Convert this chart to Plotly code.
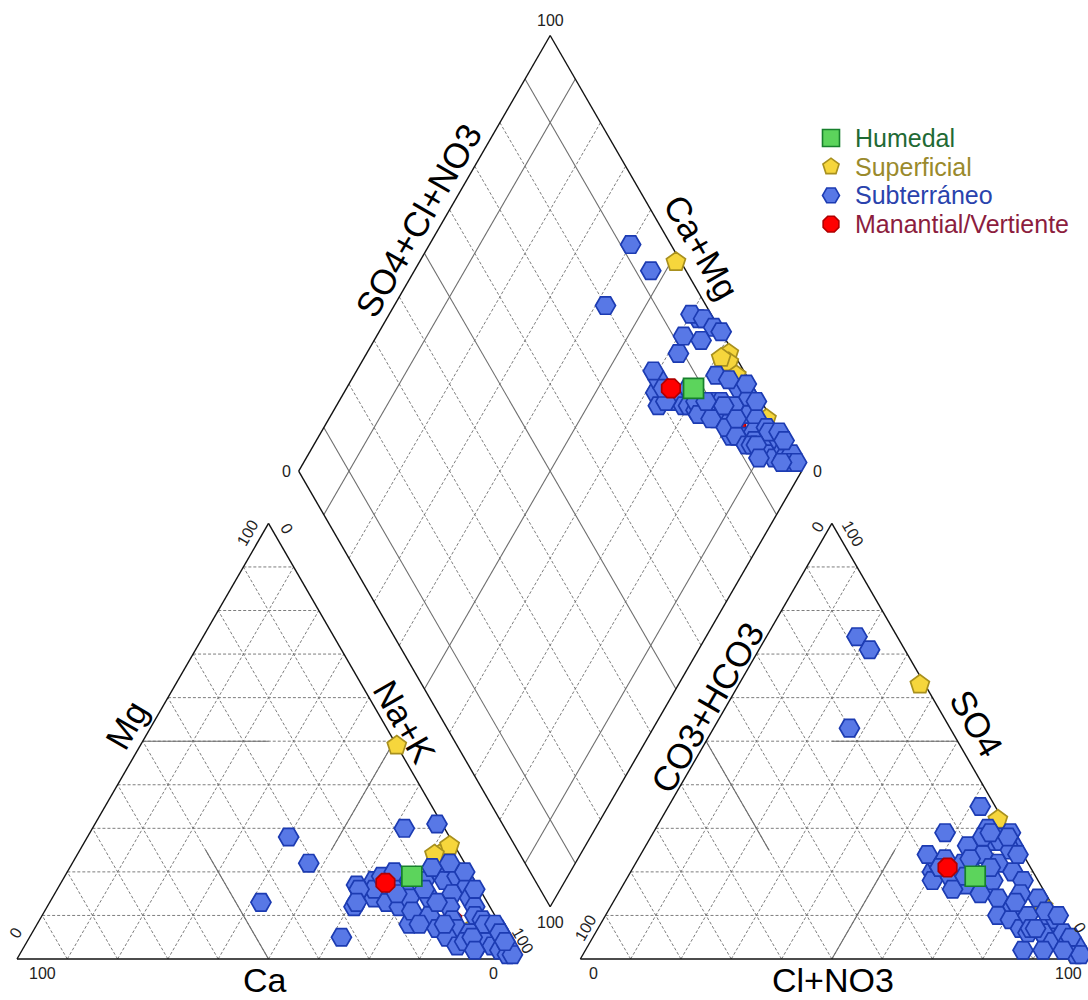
import numpy as np
import plotly.graph_objects as go

# ---------------- data (milliequivalent %) ----------------
# Humedal
hum_ca = [12]; hum_mg = [19]; hum_na = [69]
hum_hco3 = [12]; hum_so4 = [19]; hum_cl = [69]

# Superficial
sup_ca = [0, 4, 1, 5, 3, 6]
sup_mg = [49, 24, 26, 24, 21, 7]
sup_na = [51, 72, 73, 71, 76, 87]
sup_hco3 = [1, 1, 2, 3, 2, 1]
sup_so4 = [63, 32, 10, 8, 12, 1]
sup_cl = [36, 67, 88, 89, 86, 98]

# Subterraneo
sub_ca = [32, 31, 45, 8, 1, 33,
          20, 22, 27, 15, 20, 15, 18, 10, 18, 15, 24, 21,
          24, 18, 26, 17, 17, 15,
          6, 6, 3, 11, 13, 6, 8, 2, 9, 3, 9, 3, 4, 18, 16, 16, 13, 12, 11, 7, 3, 7, 1, 1, 10, 11, 9, 7, 3, 11,
          4, 5, 1, 4, 1, 3, 1, 2, 3, 7, 1, 1, 1, 1, 8]
sub_mg = [28, 22, 13, 30, 31, 5,
          18, 14, 12, 19, 13, 16, 12, 18, 17, 14, 17, 16,
          16, 19, 13, 17, 15, 20,
          20, 18, 19, 14, 10, 15, 12, 17, 9, 14, 7, 12, 10, 8, 11, 8, 7, 5, 3, 6, 9, 21, 20, 16, 13, 8, 4, 3, 22, 16,
          6, 4, 7, 3, 5, 2, 3, 1, 8, 5, 8, 6, 1, 4, 2]
sub_na = [40, 47, 42, 62, 68, 62,
          62, 64, 61, 66, 67, 69, 70, 72, 65, 71, 59, 63,
          60, 63, 61, 66, 68, 65,
          74, 76, 78, 75, 77, 79, 80, 81, 82, 83, 84, 85, 86, 74, 73, 76, 80, 83, 86, 87, 88, 72, 79, 83, 77, 81, 87, 90, 75, 73,
          90, 91, 92, 93, 94, 95, 96, 97, 89, 88, 91, 93, 98, 95, 90]
sub_hco3 = [8, 7, 20, 3, 13, 11,
            20, 21, 18, 18, 17, 16, 15, 14, 19, 13, 18, 18,
            4, 2, 8, 1, 0, 5,
            10, 8, 3, 12, 11, 6, 9, 2, 10, 4, 8, 3, 5, 13, 14, 12, 10, 9, 8, 6, 2, 6, 1, 1, 8, 7, 7, 5, 4, 11,
            3, 5, 1, 4, 1, 2, 0, 1, 2, 6, 0, 0, 0, 3, 7]
sub_so4 = [74, 71, 53, 35, 29, 2,
           20, 18, 22, 21, 19, 23, 17, 20, 24, 22, 21, 16,
           30, 28, 25, 26, 29, 27,
           26, 24, 27, 20, 16, 22, 18, 25, 14, 20, 12, 18, 15, 15, 19, 10, 9, 7, 6, 10, 14, 28, 28, 24, 21, 13, 7, 5, 29, 23,
           8, 6, 9, 4, 6, 3, 3, 1, 11, 7, 10, 5, 1, 2, 2]
sub_cl = [18, 22, 27, 62, 58, 87,
          60, 61, 60, 61, 64, 61, 68, 66, 57, 65, 61, 66,
          66, 70, 67, 73, 71, 68,
          64, 68, 70, 68, 73, 72, 73, 73, 76, 76, 80, 79, 80, 72, 67, 78, 81, 84, 86, 84, 84, 66, 71, 75, 71, 80, 86, 90, 67, 66,
          89, 89, 90, 92, 93, 95, 97, 98, 87, 87, 90, 95, 99, 95, 91]

# Manantial / Vertiente (second sample plotted beneath the groundwater cloud)
man_ca = [18, 9]; man_mg = [17.5, 9]; man_na = [64.5, 82]
man_hco3 = [16.5, 8]; man_so4 = [21, 12]; man_cl = [62.5, 80]

legend_names = ["Humedal", "Superficial", "Subterráneo", "Manantial/Vertiente"]

# ---------------- geometry ----------------
H = np.sqrt(3) / 2
GAP = 12.0
SIDE = 100.0


def cation_xy(ca, mg, na):
    ca, mg, na = map(lambda a: np.asarray(a, float), (ca, mg, na))
    t = ca + mg + na
    mg_, na_ = 100 * mg / t, 100 * na / t
    return na_ + 0.5 * mg_, H * mg_


def anion_xy(hco3, so4, cl):
    hco3, so4, cl = map(lambda a: np.asarray(a, float), (hco3, so4, cl))
    t = hco3 + so4 + cl
    so4_, cl_ = 100 * so4 / t, 100 * cl / t
    return SIDE + GAP + cl_ + 0.5 * so4_, H * so4_


def diamond_xy(camg, so4cl):
    camg, so4cl = np.asarray(camg, float), np.asarray(so4cl, float)
    return SIDE + GAP / 2 + 0.5 * (so4cl - camg), H * GAP + H * (so4cl + camg)


def piper_xy(ca, mg, na, hco3, so4, cl):
    ca, mg, na, hco3, so4, cl = map(lambda a: np.asarray(a, float), (ca, mg, na, hco3, so4, cl))
    x1, y1 = cation_xy(ca, mg, na)
    x2, y2 = anion_xy(hco3, so4, cl)
    camg = 100 * (ca + mg) / (ca + mg + na)
    so4cl = 100 * (so4 + cl) / (hco3 + so4 + cl)
    x3, y3 = diamond_xy(camg, so4cl)
    return np.concatenate([x1, x2, x3]), np.concatenate([y1, y2, y3])


def segs_to_xy(segs):
    xs, ys = [], []
    for (a, b) in segs:
        xs += [a[0], b[0], None]
        ys += [a[1], b[1], None]
    return xs, ys


def cpt(ca, mg, na):
    x, y = cation_xy([ca], [mg], [na]); return (float(x[0]), float(y[0]))


def apt(h, s, c):
    x, y = anion_xy([h], [s], [c]); return (float(x[0]), float(y[0]))


def dpt(cm, sc):
    x, y = diamond_xy([cm], [sc]); return (float(x[0]), float(y[0]))


dashed, solid = [], []
for k in range(10, 100, 10):
    # cation triangle
    dashed.append((cpt(100 - k, k, 0), cpt(0, k, 100 - k)))
    dashed.append((cpt(k, 0, 100 - k), cpt(k, 100 - k, 0)))
    dashed.append((cpt(100 - k, 0, k), cpt(0, 100 - k, k)))
    # anion triangle
    dashed.append((apt(100 - k, k, 0), apt(0, k, 100 - k)))
    dashed.append((apt(k, 0, 100 - k), apt(k, 100 - k, 0)))
    dashed.append((apt(100 - k, 0, k), apt(0, 100 - k, k)))
    # diamond
    target = solid if k in (10, 50, 90) else dashed
    target.append((dpt(k, 0), dpt(k, 100)))
    target.append((dpt(0, k), dpt(100, k)))

# pinwheel classification lines
solid += [
    (cpt(50, 50, 0), cpt(25, 50, 25)),
    (cpt(50, 0, 50), cpt(50, 25, 25)),
    (cpt(25, 25, 50), cpt(0, 50, 50)),
    (apt(25, 50, 25), apt(0, 50, 50)),
    (apt(50, 50, 0), apt(50, 25, 25)),
    (apt(50, 0, 50), apt(25, 25, 50)),
]

A, B, C = cpt(100, 0, 0), cpt(0, 0, 100), cpt(0, 100, 0)
D, E, F = apt(100, 0, 0), apt(0, 0, 100), apt(0, 100, 0)
G, L, T, R = dpt(0, 0), dpt(100, 0), dpt(100, 100), dpt(0, 100)
outline = [(A, B), (B, C), (C, A), (D, E), (E, F), (F, D), (G, L), (L, T), (T, R), (R, G)]

fig = go.Figure()
for segs, col, w, dash in [(dashed, "#6e6e6e", 0.9, "3px,2px"),
                           (solid, "#6e6e6e", 1.1, "solid"),
                           (outline, "#111111", 1.4, "solid")]:
    xs, ys = segs_to_xy(segs)
    fig.add_trace(go.Scatter(x=xs, y=ys, mode="lines", hoverinfo="skip", showlegend=False,
                             line=dict(color=col, width=w, dash=dash)))

STYLE = {
    "Humedal": ("square", "#5cd45c", "#17802c", "#1f6a35"),
    "Superficial": ("pentagon", "#f6d63c", "#a8901e", "#9a8a2c"),
    "Subterráneo": ("hexagon2", "#5878e6", "#1c3bb2", "#2a43ad"),
    "Manantial/Vertiente": ("octagon", "#ff0000", "#b00000", "#8c1d3e"),
}


def add_group(name, vals, size=20):
    sym, fill, edge, _ = STYLE[name]
    x, y = piper_xy(*vals)
    fig.add_trace(go.Scatter(x=x, y=y, mode="markers", name=name, showlegend=False,
                             cliponaxis=False, hoverinfo="name",
                             marker=dict(symbol=sym, size=size, color=fill,
                                         line=dict(color=edge, width=1.7))))


add_group("Superficial", (sup_ca, sup_mg, sup_na, sup_hco3, sup_so4, sup_cl))
add_group("Manantial/Vertiente", (man_ca[1:], man_mg[1:], man_na[1:], man_hco3[1:], man_so4[1:], man_cl[1:]))
add_group("Subterráneo", (sub_ca, sub_mg, sub_na, sub_hco3, sub_so4, sub_cl))
add_group("Manantial/Vertiente", (man_ca[:1], man_mg[:1], man_na[:1], man_hco3[:1], man_so4[:1], man_cl[:1]))
add_group("Humedal", (hum_ca, hum_mg, hum_na, hum_hco3, hum_so4, hum_cl))

# ---------------- text ----------------
PX = 5.03
X0, Y0 = 17.0, 959.0


def P(xp, yp):
    return (xp - X0) / PX, (Y0 - yp) / PX


ann = []
ticks = [("100", 42, 973, 0), ("0", 493, 973, 0), ("0", 15, 933, -60), ("100", 247, 533, -60),
         ("0", 287, 528, 60), ("100", 523, 940, 60),
         ("0", 593, 973, 0), ("100", 1068, 973, 0), ("100", 585, 928, -60), ("0", 817, 527, -60),
         ("100", 853, 533, 60), ("0", 1080, 927, 60),
         ("0", 286, 471, 0), ("100", 550, 20, 0), ("0", 817, 471, 0), ("100", 550, 922, 0)]
for t, xp, yp, ang in ticks:
    x, y = P(xp, yp)
    ann.append(dict(x=x, y=y, text=t, textangle=ang, showarrow=False, xanchor="center", yanchor="middle",
                    font=dict(family="Arial", size=16, color="#222222")))

titles = [("Ca", 265, 980, 0), ("Cl+NO3", 833, 980, 0), ("Mg", 126, 725, -60), ("Na+K", 405, 721, 60),
          ("CO3+HCO3", 707, 707, -60), ("SO4", 977, 723, 60), ("SO4+Cl+NO3", 418, 220, -60),
          ("Ca+Mg", 702, 247, 60)]
for t, xp, yp, ang in titles:
    x, y = P(xp, yp)
    ann.append(dict(x=x, y=y, text=t, textangle=ang, showarrow=False, xanchor="center", yanchor="middle",
                    font=dict(family="Arial", size=34 if ang == 0 else 35, color="#000000")))

# legend (drawn as a key block in the upper right)
for i, name in enumerate(legend_names):
    sym, fill, edge, tcol = STYLE[name]
    yp = 138 + 28.7 * i
    mx, my = P(831, yp)
    fig.add_trace(go.Scatter(x=[mx], y=[my], mode="markers", showlegend=False, hoverinfo="skip",
                             marker=dict(symbol=sym, size=17, color=fill, line=dict(color=edge, width=1.6))))
    tx, ty = P(853, yp)
    ann.append(dict(x=tx, y=ty, text=name, showarrow=False, xanchor="left", yanchor="middle",
                    font=dict(family="Arial", size=25, color=tcol)))

W, Hh = 1088, 1000
fig.update_layout(
    width=W, height=Hh, autosize=False,
    margin=dict(l=0, r=0, t=0, b=0),
    paper_bgcolor="white", plot_bgcolor="white",
    xaxis=dict(range=[-X0 / PX, (W - X0) / PX], visible=False, fixedrange=True),
    yaxis=dict(range=[(Y0 - Hh) / PX, Y0 / PX], visible=False, fixedrange=True),
    annotations=ann,
    showlegend=False,
)

fig.write_html("out.html", config={"displayModeBar": False},
               post_script="document.body.style.margin='0';document.body.style.overflow='hidden';")
